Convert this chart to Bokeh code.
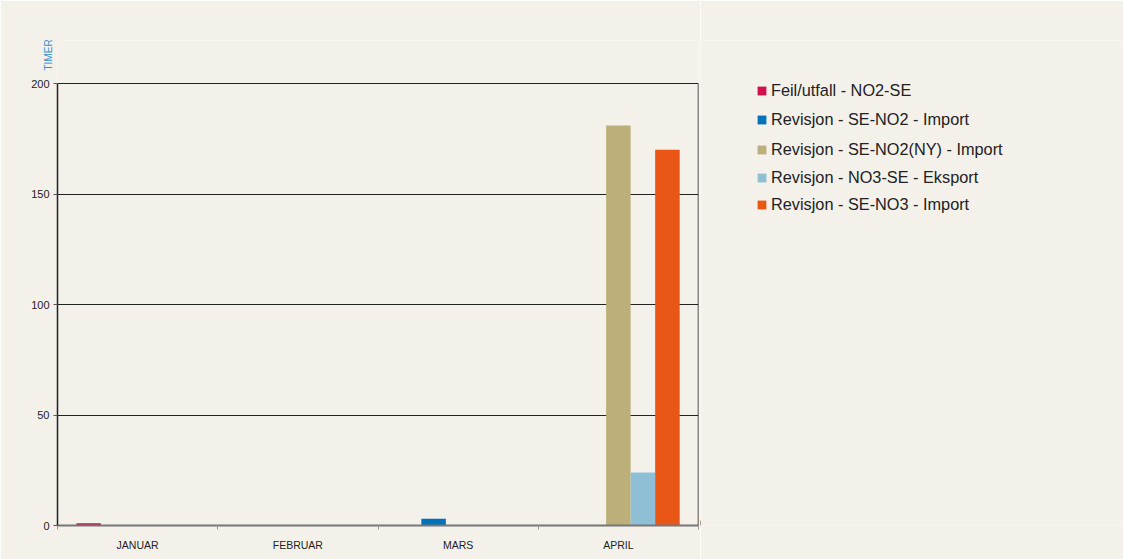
import math
from bokeh.plotting import figure
from bokeh.layouts import row
from bokeh.models import (Range1d, FixedTicker, ColumnDataSource, Legend, LegendItem, Label)
from bokeh.embed import file_html
from bokeh.resources import INLINE

months = ["JANUAR", "FEBRUAR", "MARS", "APRIL"]
series = [
    "Feil/utfall - NO2-SE",
    "Revisjon - SE-NO2 - Import",
    "Revisjon - SE-NO2(NY) - Import",
    "Revisjon - NO3-SE - Eksport",
    "Revisjon - SE-NO3 - Import",
]
feil_no2_se = [1, 0, 0, 0]
rev_se_no2 = [0, 0, 3, 0]
rev_se_no2_ny = [0, 0, 0, 181]
rev_no3_se = [0, 0, 0, 24]
rev_se_no3 = [0, 0, 0, 170]
values = [feil_no2_se, rev_se_no2, rev_se_no2_ny, rev_no3_se, rev_se_no3]
colors = ["#d0104c", "#0072b9", "#bcaf7a", "#8fbfd4", "#e95616"]
y_ticks = [0, 50, 100, 150, 200]

BG = "#f4f1eb"
FONT = "Liberation Sans"
INK = "#222222"

# page layout in pixels
H = 559
BOTTOM = 34          # space under the plot box
BOX_TOP = 83         # top edge of the plot box (y = 200)
FRAME_TOP = 40       # frame starts higher so the legend column is not clipped
y_max = max(y_ticks)
box_h = H - BOTTOM - BOX_TOP
frame_h = H - BOTTOM - FRAME_TOP
y_end = y_max * frame_h / box_h

p = figure(width=700, height=H, output_backend="svg", toolbar_location=None,
           x_range=Range1d(0, len(months)), y_range=Range1d(0, y_end),
           min_border_left=57, min_border_right=2, min_border_top=FRAME_TOP,
           min_border_bottom=BOTTOM,
           background_fill_color=BG, border_fill_color=BG)
p.outline_line_color = None

bar_w = 0.153
for i, (vals, col) in enumerate(zip(values, colors)):
    xs = [m + 0.5 + (i - 2) * bar_w for m in range(len(months))]
    src = ColumnDataSource(dict(x=xs, top=vals))
    p.vbar(x="x", top="top", bottom=0, width=bar_w, source=src,
           fill_color=col, line_color=None)

# right edge of the plot box
p.segment(x0=[len(months)], y0=[0], x1=[len(months)], y1=[y_max],
          line_color=INK, line_width=1.5)

# x axis: labels centred in each month band, ticks on the band edges
xa = p.xaxis[0]
xa.ticker = FixedTicker(ticks=[m + 0.5 for m in range(len(months))],
                        minor_ticks=list(range(len(months) + 1)))
xa.major_label_overrides = {m + 0.5: name for m, name in enumerate(months)}
xa.major_tick_line_color = None
xa.minor_tick_in = 0
xa.minor_tick_out = 4
xa.minor_tick_line_color = "#999999"
xa.axis_line_color = "#777777"
xa.axis_line_width = 2
xa.major_label_text_font = FONT
xa.major_label_text_font_size = "10.5px"
xa.major_label_text_color = INK
xa.major_label_standoff = 7

ya = p.yaxis[0]
ya.ticker = FixedTicker(ticks=y_ticks)
ya.bounds = (0, y_max)
ya.minor_tick_line_color = None
ya.major_tick_in = 0
ya.major_tick_out = 4
ya.major_tick_line_color = "#555555"
ya.axis_line_color = INK
ya.axis_line_width = 1.5
ya.major_label_text_font = FONT
ya.major_label_text_font_size = "11px"
ya.major_label_text_color = INK
ya.major_label_standoff = 4

p.xgrid.grid_line_color = None
p.ygrid.grid_line_color = INK
p.ygrid.grid_line_width = 1

# unit label above the y axis
p.add_layout(Label(x=31, y=455, x_units="screen", y_units="screen",
                   text="TIMER", angle=math.pi / 2, text_font=FONT,
                   text_font_size="10px", text_color="#3a8fc8",
                   text_baseline="middle", text_align="left"), "left")

# legend column
leg = figure(width=1123 - 700, height=H, output_backend="svg", toolbar_location=None,
             x_range=Range1d(0, 100), y_range=Range1d(0, 100),
             min_border=0, background_fill_color=BG, border_fill_color=BG)
leg.axis.visible = False
leg.grid.grid_line_color = None
leg.outline_line_color = None

row_centers = [91.5, 120.5, 151, 179, 205.5]
for name, col, yc in zip(series, colors, row_centers):
    r = leg.vbar(x=[-50], top=[1], width=1, fill_color=col, line_color=None)
    lg = Legend(items=[LegendItem(label=name, renderers=[r])],
                location=(56, H - BOTTOM - yc - 8), padding=0, margin=0,
                glyph_width=11, glyph_height=11, label_standoff=4,
                label_height=16, label_text_font=FONT,
                label_text_font_size="16.3px", label_text_color=INK,
                label_text_baseline="middle",
                background_fill_alpha=0, border_line_color=None)
    leg.add_layout(lg)

open("out.html", "w").write(file_html(row(p, leg), INLINE))
